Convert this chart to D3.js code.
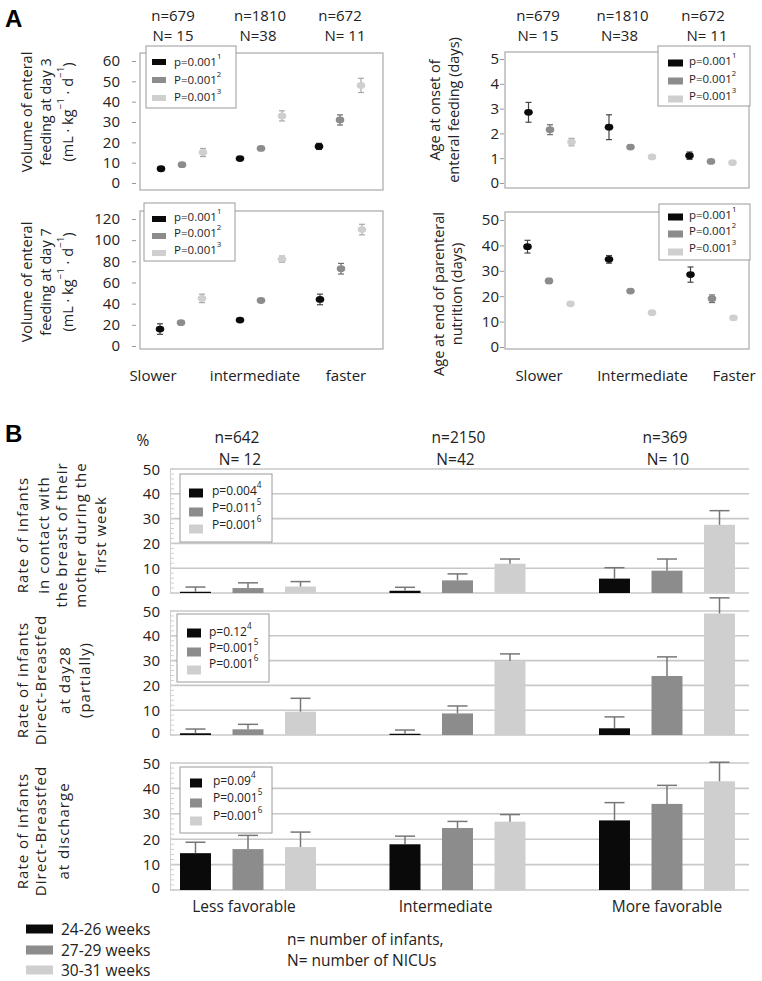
<!DOCTYPE html>
<html><head><meta charset="utf-8">
<script src="https://cdn.jsdelivr.net/npm/d3@7"></script>
<style>body{margin:0;background:#fff} svg{display:block}</style>
</head><body><svg id="c" width="762" height="981"></svg>
<script>
// ---------------- DATA ----------------
const seriesNames = ["24-26 weeks", "27-29 weeks", "30-31 weeks"];
const seriesColors = ["#0a0a0a", "#8c8c8c", "#cfcfcf"];
const errColorsA = ["#444", "#6e6e6e", "#a8a8a8"];

// Panel A
const groupsA = ["slower", "intermediate", "faster"];
const catLabelsLeftA = ["Slower", "intermediate", "faster"];
const catLabelsRightA = ["Slower", "Intermediate", "Faster"];
const headerInfantsA = ["n=679", "n=1810", "n=672"];
const headerNicuA = ["N= 15", "N=38", "N= 11"];
const pLabelsA = [["p=0.001", "1"], ["P=0.001", "2"], ["P=0.001", "3"]];

// values [group][series]
const volDay3Mean = [[7, 9, 15], [12, 17, 33], [18, 31, 48]];
const volDay3Err = [[1, 1, 2], [0.8, 0.8, 2.5], [1.5, 2.5, 3.5]];
const onsetMean = [[2.85, 2.15, 1.65], [2.25, 1.45, 1.05], [1.1, 0.87, 0.82]];
const onsetErr = [[0.4, 0.2, 0.15], [0.5, 0.07, 0.05], [0.15, 0.05, 0.05]];
const volDay7Mean = [[16, 22, 45], [24.5, 43, 82], [44, 73, 110]];
const volDay7Err = [[5, 1.5, 4], [1, 1.5, 3], [5, 5, 5]];
const pnEndMean = [[39.5, 26, 17], [34.5, 22, 13.5], [28.5, 19, 11.5]];
const pnEndErr = [[2.5, 1, 0.5], [1.5, 0.5, 0.5], [3, 1.5, 0.8]];

const ticksVol3 = [0, 10, 20, 30, 40, 50, 60];
const ticksOnset = [0, 1, 2, 3, 4, 5];
const ticksVol7 = [0, 20, 40, 60, 80, 100, 120];
const ticksPn = [0, 10, 20, 30, 40, 50];

// Panel B
const groupsB = ["Less favorable", "Intermediate", "More favorable"];
const headerInfantsB = ["n=642", "n=2150", "n=369"];
const headerNicuB = ["N= 12", "N=42", "N= 10"];
const ticksB = [0, 10, 20, 30, 40, 50];

const contactRate = [[0.5, 2, 2.6], [0.9, 5.1, 11.8], [5.8, 9.0, 27.5]];
const contactErr = [[1.9, 2.1, 2.0], [1.4, 2.6, 1.9], [4.4, 4.7, 5.7]];
const day28Rate = [[0.7, 2.3, 9.4], [0.5, 8.7, 29.8], [2.7, 23.8, 49]];
const day28Err = [[1.7, 2.0, 5.4], [1.5, 3.0, 2.9], [4.6, 7.7, 6.3]];
const dischargeRate = [[14.5, 16.1, 16.9], [18.0, 24.4, 26.9], [27.4, 33.9, 42.8]];
const dischargeErr = [[4.3, 5.4, 5.9], [3.2, 2.6, 2.8], [7.0, 7.3, 7.5]];

const pLabelsContact = [["p=0.004", "4"], ["P=0.011", "5"], ["P=0.001", "6"]];
const pLabelsDay28 = [["p=0.12", "4"], ["P=0.001", "5"], ["P=0.001", "6"]];
const pLabelsDischarge = [["p=0.09", "4"], ["P=0.001", "5"], ["P=0.001", "6"]];

// ---------------- DRAWING ----------------
const svg = d3.select("#c");
const FA = "'Open Sans', 'DejaVu Sans', sans-serif";
const FB = "'Liberation Sans Narrow', 'Open Sans', sans-serif";
const TXT = "#222";

// parts: list of [text, superscript]
function supText(sel, parts, size) {
  parts.forEach(([t, s]) => {
    sel.append("tspan").text(t);
    if (s) sel.append("tspan").text(s).attr("baseline-shift", "super").attr("font-size", size * 0.68);
  });
}

function rotatedLines(lines, xs, cy, font, size, ls) {
  lines.forEach((ln, i) => {
    const t = svg.append("text")
      .attr("transform", `translate(${xs[i]},${cy}) rotate(-90)`)
      .attr("text-anchor", "middle").attr("dominant-baseline", "central")
      .attr("font-family", font).attr("font-size", size).attr("fill", TXT)
      .attr("letter-spacing", ls || 0);
    if (Array.isArray(ln)) supText(t, ln, size); else t.text(ln);
  });
}

function legendBox(L, labels, font, size) {
  svg.append("rect").attr("x", L.x0).attr("y", L.y0).attr("width", L.x1 - L.x0).attr("height", L.y1 - L.y0)
    .attr("fill", "#fff").attr("stroke", "#9a9a9a").attr("stroke-width", 1);
  labels.forEach((lab, i) => {
    svg.append("rect").attr("x", L.sx).attr("y", L.rows[i] - L.sh / 2).attr("width", L.sw).attr("height", L.sh)
      .attr("fill", seriesColors[i]);
    const t = svg.append("text").attr("x", L.tx).attr("y", L.textRows[i]).attr("dominant-baseline", "central")
      .attr("font-family", font).attr("font-size", size).attr("fill", TXT);
    supText(t, [lab], size);
  });
}

function panelA(c) {
  const y = d3.scaleLinear().domain([0, c.ticks[c.ticks.length - 1]]).range(c.yRange);
  const xg = d3.scalePoint().domain(groupsA).range(c.groupRange);
  const xs = d3.scalePoint().domain(seriesNames).range([-c.step, c.step]);
  svg.append("rect").attr("x", c.box[0]).attr("y", c.box[1]).attr("width", c.box[2] - c.box[0])
    .attr("height", c.box[3] - c.box[1]).attr("fill", "none").attr("stroke", "#a8a8a8").attr("stroke-width", 1.2);
  const ax = svg.append("g").attr("transform", `translate(${c.axisX},0)`)
    .call(d3.axisLeft(y).tickValues(c.ticks).tickFormat(d3.format("d")).tickSize(4).tickPadding(c.pad));
  ax.select(".domain").remove();
  ax.selectAll("line").attr("stroke", "#999");
  ax.selectAll("text").attr("font-family", FA).attr("font-size", 15).attr("fill", TXT);
  groupsA.forEach((gname, gi) => {
    seriesNames.forEach((s, si) => {
      const cx = xg(gname) + xs(s);
      const m = c.mean[gi][si], e = c.err[gi][si];
      const g = svg.append("g");
      g.append("line").attr("x1", cx).attr("x2", cx).attr("y1", y(m - e)).attr("y2", y(m + e))
        .attr("stroke", errColorsA[si]).attr("stroke-width", 1.2);
      [m - e, m + e].forEach(v => g.append("line").attr("x1", cx - 3).attr("x2", cx + 3).attr("y1", y(v)).attr("y2", y(v))
        .attr("stroke", errColorsA[si]).attr("stroke-width", 1.2));
      g.append("ellipse").attr("cx", cx).attr("cy", y(m)).attr("rx", 4.3).attr("ry", 3.4).attr("fill", seriesColors[si]);
    });
  });
  legendBox(c.legend, pLabelsA, FA, 11.5);
  if (c.header) {
    groupsA.forEach((gname, gi) => {
      svg.append("text").attr("x", xg(gname) + c.hOff[gi]).attr("y", 21).attr("text-anchor", "middle")
        .attr("font-family", FA).attr("font-size", 15).attr("fill", TXT).text(headerInfantsA[gi]);
      svg.append("text").attr("x", xg(gname) + c.nOff[gi]).attr("y", 41).attr("text-anchor", "middle")
        .attr("font-family", FA).attr("font-size", 15).attr("fill", TXT).text(headerNicuA[gi]);
    });
  }
  if (c.labels) {
    groupsA.forEach((gname, gi) => {
      svg.append("text").attr("x", xg(gname) + c.labOff[gi]).attr("y", 381).attr("text-anchor", "middle")
        .attr("font-family", FA).attr("font-size", 15).attr("fill", TXT).text(c.labels[gi]);
    });
  }
}

// Panel A — top-left
panelA({ ticks: ticksVol3, yRange: [183, 61], groupRange: [182, 340], step: 21, box: [140, 53, 383, 190],
  axisX: 136, pad: 12, mean: volDay3Mean, err: volDay3Err,
  legend: { x0: 146, y0: 46, x1: 236, y1: 108, sx: 152, sw: 14, sh: 6, tx: 174, rows: [62, 80, 98], textRows: [61, 79, 96] },
  header: true, hOff: [-9, -1, 0], nOff: [-9, -3, 5] });
rotatedLines(["Volume of enteral", "feeding at day 3", [["(mL · kg", "−1"], [" · d", "−1"], [")", ""]]],
  [26, 45, 67], 112, FA, 14.5);

// Panel A — top-right
panelA({ ticks: ticksOnset, yRange: [183, 59], groupRange: [550, 711], step: 21.5, box: [505, 52, 749, 188],
  axisX: 504, pad: 1, mean: onsetMean, err: onsetErr,
  legend: { x0: 658, y0: 46, x1: 750, y1: 106, sx: 668, sw: 15, sh: 7, tx: 689, rows: [63, 81, 99], textRows: [60, 78, 95] },
  header: true, hOff: [-12, -8, -8], nOff: [-12, -11, -4] });
rotatedLines(["Age at onset of", "enteral feeding (days)"], [434, 453], 110, FA, 14.5);

// Panel A — bottom-left
panelA({ ticks: ticksVol7, yRange: [346, 219], groupRange: [181, 341], step: 21, box: [140, 211, 383, 349],
  axisX: 136, pad: 12, mean: volDay7Mean, err: volDay7Err,
  legend: { x0: 144, y0: 203, x1: 235, y1: 261, sx: 152, sw: 14, sh: 6, tx: 174, rows: [219, 236, 253], textRows: [216, 232, 249] },
  labels: catLabelsLeftA, labOff: [-28, -6, 5] });
rotatedLines(["Volume of enteral", "feeding at day 7", [["(mL · kg", "−1"], [" · d", "−1"], [")", ""]]],
  [26, 45, 67], 282, FA, 14.5);

// Panel A — bottom-right
panelA({ ticks: ticksPn, yRange: [347, 220], groupRange: [549, 712], step: 21.5, box: [505, 212, 749, 349],
  axisX: 504, pad: 1, mean: pnEndMean, err: pnEndErr,
  legend: { x0: 659, y0: 204, x1: 750, y1: 260, sx: 668, sw: 15, sh: 7, tx: 689, rows: [217, 234, 252], textRows: [214, 230, 247] },
  labels: catLabelsRightA, labOff: [-10, 12, 22] });
rotatedLines(["Age at end  of parenteral", "nutrition  (days)"], [438, 456], 294, FA, 14.5);

// ---------------- Panel B ----------------
function panelB(c) {
  const y = d3.scaleLinear().domain([0, 50]).range(c.yRange);
  const xg = d3.scalePoint().domain(groupsB).range([248, 667]);
  const xs = d3.scaleBand().domain(seriesNames).range([-68, 68]).paddingInner(0.41);
  const X0 = 170, X1 = 749;
  svg.append("g").selectAll("line").data(ticksB).join("line")
    .attr("x1", X0).attr("x2", X1).attr("y1", d => y(d)).attr("y2", d => y(d))
    .attr("stroke", "#c8c8c8").attr("stroke-width", 1.6);
  const ax = svg.append("g").attr("transform", `translate(${X0},0)`)
    .call(d3.axisLeft(y).tickValues(ticksB).tickSize(0).tickPadding(10));
  ax.select(".domain").attr("stroke", "#d0d0d0");
  ax.selectAll("text").attr("font-family", FB).attr("font-size", 15).attr("fill", TXT)
    .attr("y", d => d === 0 ? -2 : (d === 50 ? 1 : 0));
  svg.append("g").selectAll("line").data(d3.range(0, 51, 2)).join("line")
    .attr("x1", X0).attr("x2", X0 + 4).attr("y1", d => y(d)).attr("y2", d => y(d))
    .attr("stroke", "#d0d0d0").attr("stroke-width", 1);
  groupsB.forEach((gname, gi) => {
    seriesNames.forEach((s, si) => {
      const x = xg(gname) + xs(s), w = xs.bandwidth();
      const v = c.rate[gi][si], e = c.err[gi][si];
      svg.append("rect").attr("x", x).attr("y", y(v)).attr("width", w).attr("height", y(0) - y(v))
        .attr("fill", seriesColors[si]);
      const cx = x + w / 2;
      svg.append("line").attr("x1", cx).attr("x2", cx).attr("y1", y(v)).attr("y2", y(v + e))
        .attr("stroke", "#777").attr("stroke-width", 1.5);
      svg.append("line").attr("x1", cx - 10).attr("x2", cx + 10).attr("y1", y(v + e)).attr("y2", y(v + e))
        .attr("stroke", "#777").attr("stroke-width", 1.5);
    });
  });
  legendBox(c.legend, c.pLabels, FB, 12);
  rotatedLines(c.title, c.titleX, c.titleY, FA, 15, 1);
  return xg;
}

const xgB = panelB({ yRange: [593, 469], rate: contactRate, err: contactErr, pLabels: pLabelsContact,
  legend: { x0: 180, y0: 474, x1: 272, y1: 542, sx: 189, sw: 14, sh: 9, tx: 212, rows: [493, 512, 529], textRows: [490, 507, 524] },
  title: ["Rate of infants", "in contact with", "the breast of their", "mother during the", "first week"],
  titleX: [22, 43, 61, 80, 100], titleY: 535 });
panelB({ yRange: [735, 611], rate: day28Rate, err: day28Err, pLabels: pLabelsDay28,
  legend: { x0: 177, y0: 614, x1: 269, y1: 682, sx: 187, sw: 14, sh: 9, tx: 209, rows: [633, 652, 670], textRows: [631, 647, 663] },
  title: ["Rate of infants", "Direct-Breastfed", "at day28", "(partially)"],
  titleX: [22, 40, 64, 84], titleY: 680 });
panelB({ yRange: [890, 763], rate: dischargeRate, err: dischargeErr, pLabels: pLabelsDischarge,
  legend: { x0: 180, y0: 767, x1: 272, y1: 833, sx: 190, sw: 12, sh: 9, tx: 213, rows: [783, 803, 821], textRows: [780, 797, 815] },
  title: ["Rate of infants", "Direct-Breastfed", "at discharge"],
  titleX: [22, 40, 63], titleY: 831 });

const hOffB = [-11, 1, -2], nOffB = [-8, -2, 1], catOffB = [-4, -12, 0];
groupsB.forEach((gname, gi) => {
  svg.append("text").attr("x", xgB(gname) + hOffB[gi]).attr("y", 443).attr("text-anchor", "middle")
    .attr("font-family", FB).attr("font-size", 15.5).attr("fill", TXT).text(headerInfantsB[gi]);
  svg.append("text").attr("x", xgB(gname) + nOffB[gi]).attr("y", 465).attr("text-anchor", "middle")
    .attr("font-family", FB).attr("font-size", 15.5).attr("fill", TXT).text(headerNicuB[gi]);
  svg.append("text").attr("x", xgB(gname) + catOffB[gi]).attr("y", 912).attr("text-anchor", "middle")
    .attr("font-family", FB).attr("font-size", 15.5).attr("fill", TXT).text(gname);
});
svg.append("text").attr("x", 143).attr("y", 446).attr("text-anchor", "middle")
  .attr("font-family", FB).attr("font-size", 15.5).attr("fill", TXT).text("%");

const legRows = [929, 950, 970];
seriesNames.forEach((s, i) => {
  svg.append("rect").attr("x", 26).attr("y", legRows[i] - 4.5).attr("width", 27).attr("height", 9).attr("fill", seriesColors[i]);
  svg.append("text").attr("x", 61).attr("y", legRows[i]).attr("dominant-baseline", "central")
    .attr("font-family", FB).attr("font-size", 15.5).attr("fill", TXT).text(s);
});
svg.append("text").attr("x", 287).attr("y", 945).attr("font-family", FB).attr("font-size", 15.5).attr("fill", TXT)
  .text("n= number of infants,");
svg.append("text").attr("x", 287).attr("y", 966).attr("font-family", FB).attr("font-size", 15.5).attr("fill", TXT)
  .text("N= number of NICUs");

svg.append("text").attr("x", 5).attr("y", 27).attr("font-family", "'Liberation Sans', Arial, sans-serif")
  .attr("font-weight", "bold").attr("font-size", 24).attr("fill", "#000").text("A");
svg.append("text").attr("x", 5).attr("y", 442).attr("font-family", "'Liberation Sans', Arial, sans-serif")
  .attr("font-weight", "bold").attr("font-size", 24).attr("fill", "#000").text("B");
</script></body></html>
